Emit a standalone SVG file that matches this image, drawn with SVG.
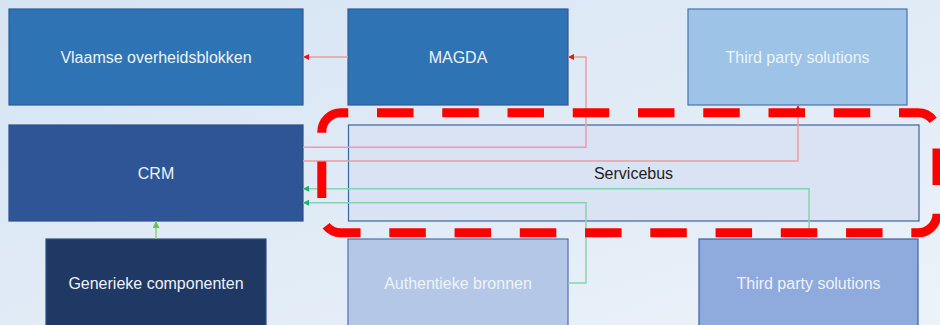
<svg xmlns="http://www.w3.org/2000/svg" width="940" height="325" viewBox="0 0 940 325">
<defs>
<linearGradient id="bg" x1="0" y1="0" x2="1" y2="1">
<stop offset="0" stop-color="#d5e4f3"/>
<stop offset="1" stop-color="#ecf2f9"/>
</linearGradient>
<marker id="ar" viewBox="0 0 6 6" refX="6" refY="3" markerWidth="6" markerHeight="6" markerUnits="userSpaceOnUse" orient="auto">
<path d="M0,0 L6,3 L0,6 Z" fill="#e8151b"/>
</marker>
<marker id="ag" viewBox="0 0 6 6" refX="6" refY="3" markerWidth="6" markerHeight="6" markerUnits="userSpaceOnUse" orient="auto">
<path d="M0,0 L6,3 L0,6 Z" fill="#1db36a"/>
</marker>
<marker id="ag2" viewBox="0 0 6 6" refX="6" refY="3" markerWidth="7" markerHeight="7" markerUnits="userSpaceOnUse" orient="auto">
<path d="M0,0 L6,3 L0,6 Z" fill="#6fc04a"/>
</marker>
</defs>
<style>
.box{stroke-width:1.2}
.t{font-family:"Liberation Sans",Arial,sans-serif;font-size:16px;text-anchor:middle;dominant-baseline:central;fill:#eef3fa}
.red{fill:none;stroke:#f09aa2;stroke-width:1.5}
.grn{fill:none;stroke:#86d4ad;stroke-width:1.5}
</style>
<rect x="0" y="0" width="940" height="325" fill="url(#bg)"/>

<g id="vlaamse">
<rect class="box" x="9" y="9" width="294" height="96" fill="#2e74b5" stroke="#2f5a95"/>
<text class="t" x="156" y="57">Vlaamse overheidsblokken</text>
</g>
<g id="magda">
<rect class="box" x="348" y="9" width="220" height="96" fill="#2e74b5" stroke="#2f5a95"/>
<text class="t" x="458" y="57">MAGDA</text>
</g>
<g id="third-top">
<rect class="box" x="688" y="9" width="219" height="96" fill="#9dc3e6" stroke="#4a72ad"/>
<text class="t" x="797.5" y="57">Third party solutions</text>
</g>
<g id="crm">
<rect class="box" x="9" y="125" width="294" height="96" fill="#2f5597" stroke="#2b4f8c"/>
<text class="t" x="156" y="173">CRM</text>
</g>
<g id="servicebus">
<rect class="box" x="348.5" y="125" width="570.5" height="96" fill="#dae3f3" stroke="#3e62a3"/>
<text class="t" x="633.5" y="173" style="fill:#1e1e1e">Servicebus</text>
</g>
<g id="generieke">
<rect class="box" x="46" y="239" width="220" height="96" fill="#203864" stroke="#2e4f85"/>
<text class="t" x="156" y="283">Generieke componenten</text>
</g>
<g id="authentieke">
<rect class="box" x="348" y="239" width="220" height="96" fill="#b4c7e7" stroke="#4a72ad"/>
<text class="t" x="458" y="283">Authentieke bronnen</text>
</g>
<g id="third-bottom">
<rect class="box" x="699" y="239" width="219" height="96" fill="#8faadc" stroke="#3e62a3"/>
<text class="t" x="808.5" y="283">Third party solutions</text>
</g>

<g id="connectors">
<path class="red" d="M348,57 H303" marker-end="url(#ar)"/>
<path class="red" d="M303,147.3 H586 V57 H568" marker-end="url(#ar)"/>
<path class="red" d="M303,161 H798 V105" marker-end="url(#ar)"/>
<path class="grn" d="M809,239 V188.7 H303" marker-end="url(#ag)"/>
<path class="grn" d="M568,283 H586 V202.7 H303" marker-end="url(#ag)"/>
<path d="M156,239 V221" fill="none" stroke="#8ccf72" stroke-width="1.5" marker-end="url(#ag2)"/>
</g>

<g id="highlight">
<path d="M340.8,112.8 H918 A19,19 0 0 1 937,131.8 V213.8 A19,19 0 0 1 918,232.8 H340.8 A19,19 0 0 1 321.8,213.8 V131.8 A19,19 0 0 1 340.8,112.8 Z" fill="none" stroke="#ff0000" stroke-width="9" stroke-dasharray="36.5 28.75" stroke-dashoffset="29.05"/>
</g>
</svg>
